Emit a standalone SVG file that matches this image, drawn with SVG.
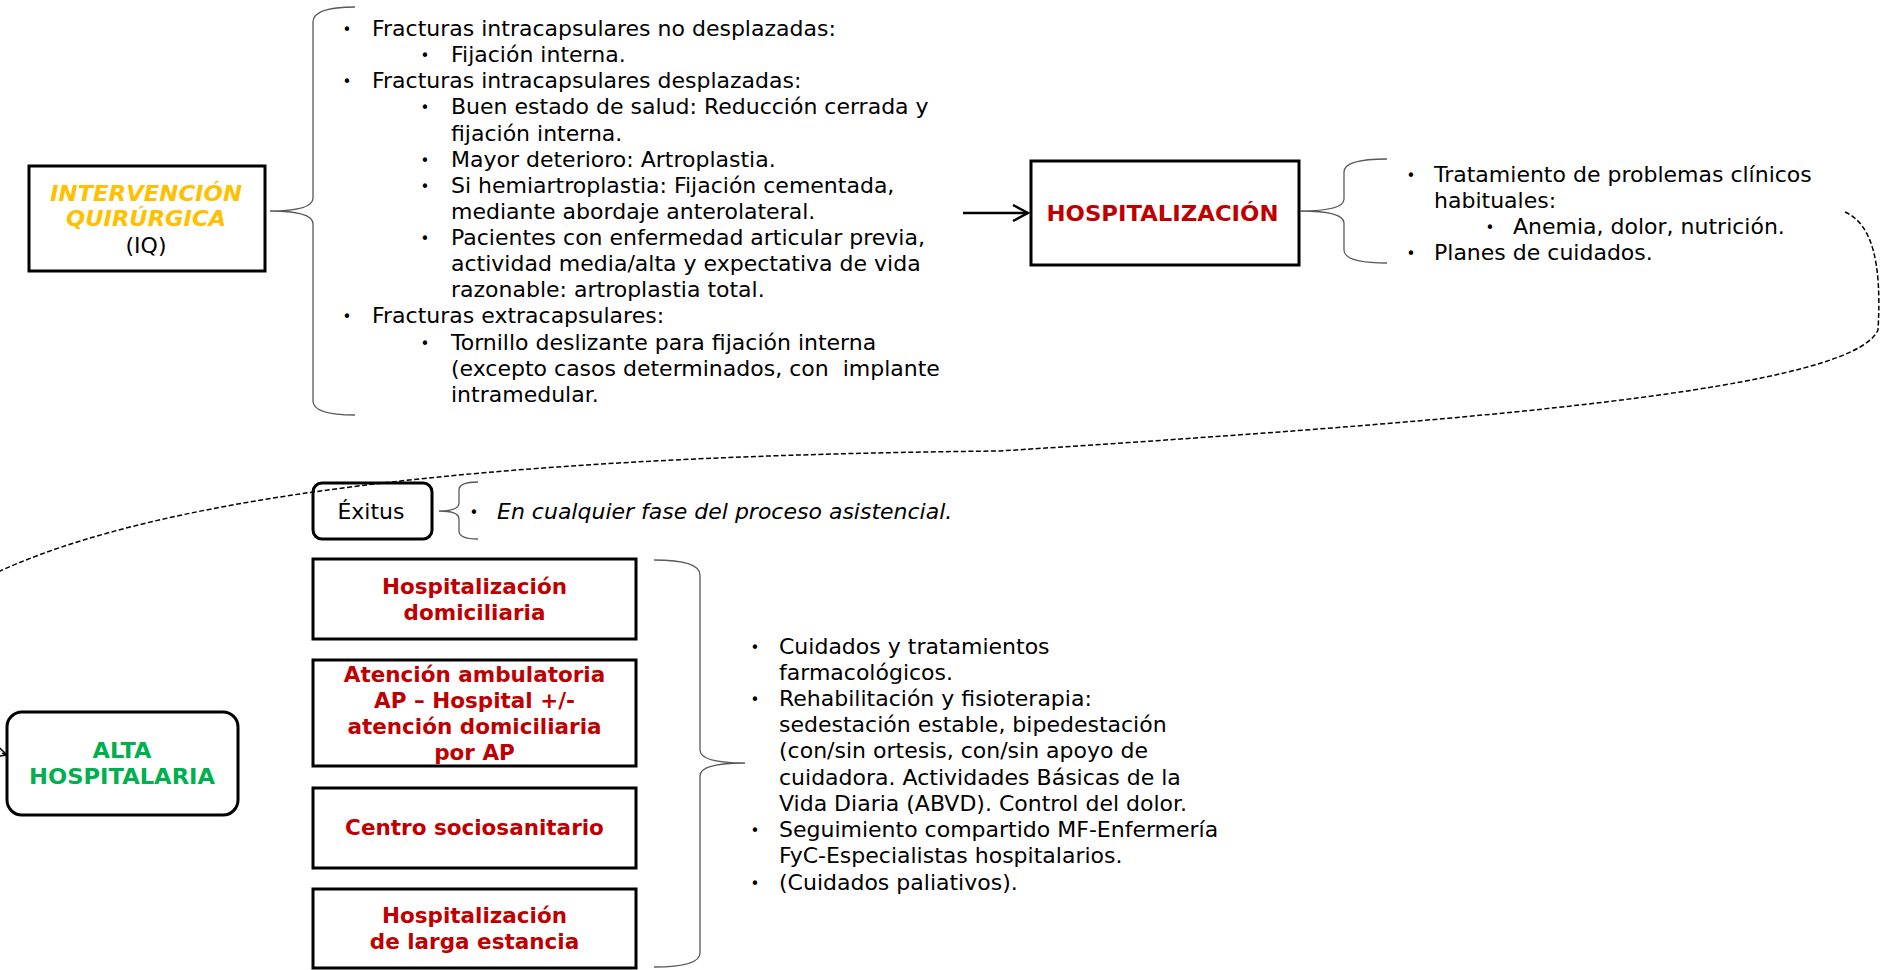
<svg xmlns="http://www.w3.org/2000/svg" width="1880" height="970" viewBox="0 0 1880 970">
<defs>
<style>
.t{font-family:"DejaVu Sans",Verdana,sans-serif;font-size:22px;fill:#000}
.bul{font-family:"DejaVu Sans",sans-serif;font-size:15px;fill:#000;text-anchor:middle}
.bd{font-weight:bold}
.red{fill:#C00000;font-weight:bold;text-anchor:middle;font-size:21.5px}
.box{fill:#fff;stroke:#000;stroke-width:3}
.brace{fill:none;stroke:#595959;stroke-width:1.3}
.dash{fill:none;stroke:#000;stroke-width:1.5;stroke-dasharray:5 2.5}
.arr{fill:none;stroke:#000;stroke-width:2.5}
</style>
<marker id="open" viewBox="0 0 12 12" refX="11" refY="6" markerWidth="12" markerHeight="12" markerUnits="userSpaceOnUse" orient="auto">
<path d="M1,1 L11,6 L1,11" fill="none" stroke="#000" stroke-width="1.5"/>
</marker>
<marker id="chev" viewBox="0 0 20 20" refX="18" refY="10" markerWidth="20" markerHeight="20" markerUnits="userSpaceOnUse" orient="auto">
<path d="M3,2 L18,10 L3,18" fill="none" stroke="#000" stroke-width="2.5"/>
</marker>
</defs>
<rect width="1880" height="970" fill="#fff"/>

<g id="iq">
<rect class="box" x="29" y="166" width="236" height="105"/>
<text class="t bd" x="146" y="201" text-anchor="middle" font-style="italic" style="fill:#FFC000" textLength="192" lengthAdjust="spacingAndGlyphs">INTERVENCIÓN</text>
<text class="t bd" x="146" y="226" text-anchor="middle" font-style="italic" style="fill:#FFC000" textLength="160" lengthAdjust="spacingAndGlyphs">QUIRÚRGICA</text>
<text class="t" x="146" y="253" text-anchor="middle">(IQ)</text>
</g>

<g id="iq-list">
<text class="bul" x="347" y="35">•</text><text class="t" x="372" y="36">Fracturas intracapsulares no desplazadas:</text>
<text class="bul" x="425" y="61">•</text><text class="t" x="451" y="62">Fijación interna.</text>
<text class="bul" x="347" y="87">•</text><text class="t" x="372" y="88">Fracturas intracapsulares desplazadas:</text>
<text class="bul" x="425" y="113">•</text><text class="t" x="451" y="114">Buen estado de salud: Reducción cerrada y</text>
<text class="t" x="451" y="141">fijación interna.</text>
<text class="bul" x="425" y="166">•</text><text class="t" x="451" y="167">Mayor deterioro: Artroplastia.</text>
<text class="bul" x="425" y="192">•</text><text class="t" x="451" y="193">Si hemiartroplastia: Fijación cementada,</text>
<text class="t" x="451" y="219">mediante abordaje anterolateral.</text>
<text class="bul" x="425" y="244">•</text><text class="t" x="451" y="245">Pacientes con enfermedad articular previa,</text>
<text class="t" x="451" y="271">actividad media/alta y expectativa de vida</text>
<text class="t" x="451" y="297">razonable: artroplastia total.</text>
<text class="bul" x="347" y="322">•</text><text class="t" x="372" y="323">Fracturas extracapsulares:</text>
<text class="bul" x="425" y="349">•</text><text class="t" x="451" y="350">Tornillo deslizante para fijación interna</text>
<text class="t" x="451" y="376" xml:space="preserve">(excepto casos determinados, con  implante</text>
<text class="t" x="451" y="402">intramedular.</text>
</g>

<g id="hospitalizacion">
<rect class="box" x="1031" y="161" width="268" height="104"/>
<text class="t red" x="1162.5" y="221" textLength="232" lengthAdjust="spacingAndGlyphs">HOSPITALIZACIÓN</text>
</g>

<g id="hosp-list">
<text class="bul" x="1411" y="181">•</text><text class="t" x="1434" y="182">Tratamiento de problemas clínicos</text>
<text class="t" x="1434" y="208">habituales:</text>
<text class="bul" x="1490" y="233">•</text><text class="t" x="1513" y="234">Anemia, dolor, nutrición.</text>
<text class="bul" x="1411" y="259">•</text><text class="t" x="1434" y="260">Planes de cuidados.</text>
</g>

<g id="exitus">
<rect class="box" x="313" y="483" width="119" height="56" rx="9"/>
<text class="t" x="371" y="519" text-anchor="middle">Éxitus</text>
</g>
<g id="exitus-note">
<text class="bul" x="474" y="518">•</text>
<text class="t" x="497" y="519" font-style="italic">En cualquier fase del proceso asistencial.</text>
</g>

<g id="alta">
<rect class="box" x="7" y="712" width="231" height="103" rx="15"/>
<text class="t bd" x="122" y="758" text-anchor="middle" style="fill:#00B050" textLength="59" lengthAdjust="spacingAndGlyphs">ALTA</text>
<text class="t bd" x="122" y="784" text-anchor="middle" style="fill:#00B050" textLength="186" lengthAdjust="spacingAndGlyphs">HOSPITALARIA</text>
</g>

<g id="hosp-domiciliaria">
<rect class="box" x="313" y="559" width="323" height="80"/>
<text class="t red" x="474.5" y="594">Hospitalización</text>
<text class="t red" x="474.5" y="620">domiciliaria</text>
</g>
<g id="atencion-ambulatoria">
<rect class="box" x="313" y="660" width="323" height="106"/>
<text class="t red" x="474.5" y="682">Atención ambulatoria</text>
<text class="t red" x="474.5" y="708">AP – Hospital +/-</text>
<text class="t red" x="474.5" y="734">atención domiciliaria</text>
<text class="t red" x="474.5" y="760">por AP</text>
</g>
<g id="centro-sociosanitario">
<rect class="box" x="313" y="788" width="323" height="80"/>
<text class="t red" x="474.5" y="835">Centro sociosanitario</text>
</g>
<g id="larga-estancia">
<rect class="box" x="313" y="889" width="323" height="79"/>
<text class="t red" x="474.5" y="923">Hospitalización</text>
<text class="t red" x="474.5" y="949">de larga estancia</text>
</g>

<g id="alta-list">
<text class="bul" x="755" y="653">•</text><text class="t" x="779" y="654">Cuidados y tratamientos</text>
<text class="t" x="779" y="680">farmacológicos.</text>
<text class="bul" x="755" y="705">•</text><text class="t" x="779" y="706">Rehabilitación y fisioterapia:</text>
<text class="t" x="779" y="732">sedestación estable, bipedestación</text>
<text class="t" x="779" y="758">(con/sin ortesis, con/sin apoyo de</text>
<text class="t" x="779" y="785">cuidadora. Actividades Básicas de la</text>
<text class="t" x="779" y="811">Vida Diaria (ABVD). Control del dolor.</text>
<text class="bul" x="755" y="836">•</text><text class="t" x="779" y="837">Seguimiento compartido MF-Enfermería</text>
<text class="t" x="779" y="863">FyC-Especialistas hospitalarios.</text>
<text class="bul" x="755" y="889">•</text><text class="t" x="779" y="890">(Cuidados paliativos).</text>
</g>

<g id="connectors">
<line class="arr" x1="963" y1="213" x2="1028" y2="213" marker-end="url(#chev)"/>
<path class="dash" d="M1845,212 C1872,224 1882,262 1878,330 C1850,395 1400,425 1000,451 C600,455 200,480 0,571 C-40,589 -40,740 7,755" marker-end="url(#open)"/>
<path class="brace" d="M355,7 Q313,7 313,22 L313,198 Q313,211 270,211 Q313,211 313,224 L313,401 Q313,415 355,415"/>
<path class="brace" d="M1387,159 Q1344,159 1344,172 L1344,199 Q1344,211 1300,211 Q1344,211 1344,223 L1344,250 Q1344,263 1387,263"/>
<path class="brace" d="M478,482 Q459,482 459,490 L459,503 Q459,511 439,511 Q459,511 459,519 L459,531 Q459,539 478,539"/>
<path class="brace" d="M654,560 Q700,560 700,575 L700,750 Q700,763 745,763 Q700,763 700,776 L700,953 Q700,967 654,967"/>
</g>
</svg>
